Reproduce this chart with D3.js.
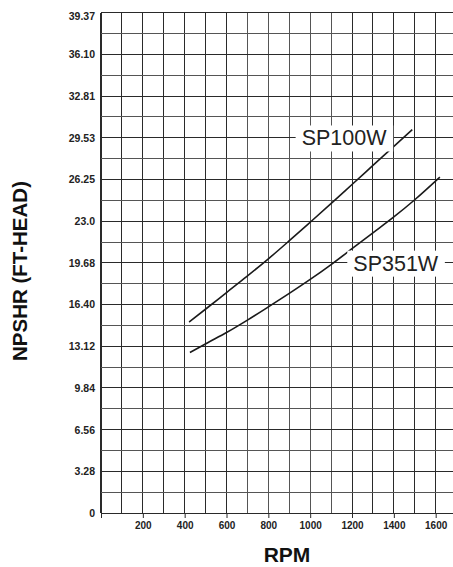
<!DOCTYPE html>
<html>
<head>
<meta charset="utf-8">
<script src="https://cdn.jsdelivr.net/npm/d3@7"></script>
<style>
  html, body { margin: 0; padding: 0; background: #fff; }
  svg { display: block; font-family: "Liberation Sans", Arial, sans-serif; }
</style>
</head>
<body>
<svg id="chart" width="453" height="567"></svg>
<script>
// ---- data ----
const xTickValues = [200, 400, 600, 800, 1000, 1200, 1400, 1600];
const yTickLabels = ["0", "3.28", "6.56", "9.84", "13.12", "16.40", "19.68", "23.0", "26.25", "29.53", "32.81", "36.10", "39.37"];
const yTickValues = [0, 3.28, 6.56, 9.84, 13.12, 16.40, 19.68, 22.97, 26.25, 29.53, 32.81, 36.09, 39.37];

const sp100wRpm   = [421, 516, 600, 696, 800, 895, 1000, 1110, 1200, 1300, 1400, 1488];
const sp100wNpshr = [15.03, 16.25, 17.35, 18.6, 20.0, 21.35, 22.88, 24.5, 25.85, 27.35, 28.85, 30.17];

const sp351wRpm   = [425, 510, 600, 700, 800, 900, 1000, 1100, 1200, 1300, 1400, 1500, 1620];
const sp351wNpshr = [12.63, 13.4, 14.2, 15.18, 16.22, 17.28, 18.38, 19.55, 20.8, 22.05, 23.3, 24.65, 26.43];

const seriesNames = ["SP100W", "SP351W"];
const labelRpm   = [1162, 1409];     // label centers
const labelNpshr = [29.53, 19.68];

// ---- layout ----
const svg = d3.select("#chart");
const x = d3.scaleLinear().domain([0, 1700]).range([101, 456.6]);
const y = d3.scaleLinear().domain([0, 39.37]).range([513, 12.7]);

const gridColor = "#2a2a2a";

// vertical grid lines
const xGrid = d3.range(0, 1701, 100);
svg.append("g").selectAll("line").data(xGrid).join("line")
  .attr("x1", d => x(d)).attr("x2", d => x(d))
  .attr("y1", y(39.37)).attr("y2", y(0))
  .attr("stroke", (d, i) => (d >= 700 && d <= 1100) ? "#555" : gridColor)
  .attr("stroke-width", d => d === 0 ? 1.4 : 1)
  .attr("shape-rendering", "crispEdges");

// horizontal grid lines
const yGrid = d3.range(0, 25).map(i => i * 39.37 / 24);
svg.append("g").selectAll("line").data(yGrid).join("line")
  .attr("x1", x(0)).attr("x2", x(1700))
  .attr("y1", d => y(d)).attr("y2", d => y(d))
  .attr("stroke", (d, i) => i % 2 === 1 ? "#555" : gridColor)
  .attr("stroke-width", (d, i) => (i === 10) ? 1.6 : 1)
  .attr("shape-rendering", "crispEdges");

// x axis ticks & labels
const xAxis = d3.axisBottom(x).tickValues([0].concat(xTickValues))
  .tickSize(5).tickPadding(4)
  .tickFormat(d => d === 0 ? "" : d);
const gx = svg.append("g").attr("transform", `translate(0,${y(0)})`).call(xAxis);
gx.select(".domain").remove();
gx.selectAll(".tick line").attr("stroke", gridColor);
gx.selectAll(".tick text")
  .attr("font-family", "Liberation Sans, Arial, sans-serif")
  .attr("font-size", "10px").attr("font-weight", "bold").attr("fill", "#222");

// y axis labels
const yAxis = d3.axisLeft(y).tickValues(yTickValues).tickSize(0).tickPadding(6)
  .tickFormat((d, i) => yTickLabels[i]);
const gy = svg.append("g").attr("transform", `translate(${x(0)},0)`).call(yAxis);
gy.select(".domain").remove();
gy.selectAll(".tick text")
  .attr("font-family", "Liberation Sans, Arial, sans-serif")
  .attr("font-size", "10.5px").attr("font-weight", "bold").attr("fill", "#222")
  .attr("dy", (d, i) => i === yTickValues.length - 1 ? "0.62em" : "0.32em");

// curves
const line = d3.line().x(d => x(d[0])).y(d => y(d[1])).curve(d3.curveMonotoneX);
const seriesData = [
  d3.zip(sp100wRpm, sp100wNpshr),
  d3.zip(sp351wRpm, sp351wNpshr)
];
svg.append("g").selectAll("path").data(seriesData).join("path")
  .attr("d", line)
  .attr("fill", "none")
  .attr("stroke", "#1a1a1a")
  .attr("stroke-width", 1.6);

// series labels with white boxes
const lg = svg.append("g").selectAll("g").data(seriesNames).join("g")
  .attr("transform", (d, i) => `translate(${x(labelRpm[i])},${y(labelNpshr[i])})`);
const texts = lg.append("text")
  .attr("text-anchor", "middle")
  .attr("dy", "0.36em")
  .attr("font-family", "Liberation Sans, Arial, sans-serif")
  .attr("font-size", "21.5px")
  .attr("fill", "#222")
  .text(d => d);
texts.each(function() {
  const b = this.getBBox();
  d3.select(this.parentNode).insert("rect", "text")
    .attr("x", b.x - 6).attr("y", b.y - 1)
    .attr("width", b.width + 12).attr("height", b.height + 2)
    .attr("fill", "#fff");
});

// axis titles
svg.append("text")
  .attr("transform", `translate(27,${271}) rotate(-90)`)
  .attr("text-anchor", "middle")
  .attr("font-size", "20.5px").attr("font-weight", "bold")
  .attr("fill", "#111")
  .text("NPSHR (FT-HEAD)");

svg.append("text")
  .attr("x", 287).attr("y", 562)
  .attr("text-anchor", "middle")
  .attr("font-size", "21px").attr("font-weight", "bold")
  .attr("fill", "#111")
  .text("RPM");
</script>
</body>
</html>
